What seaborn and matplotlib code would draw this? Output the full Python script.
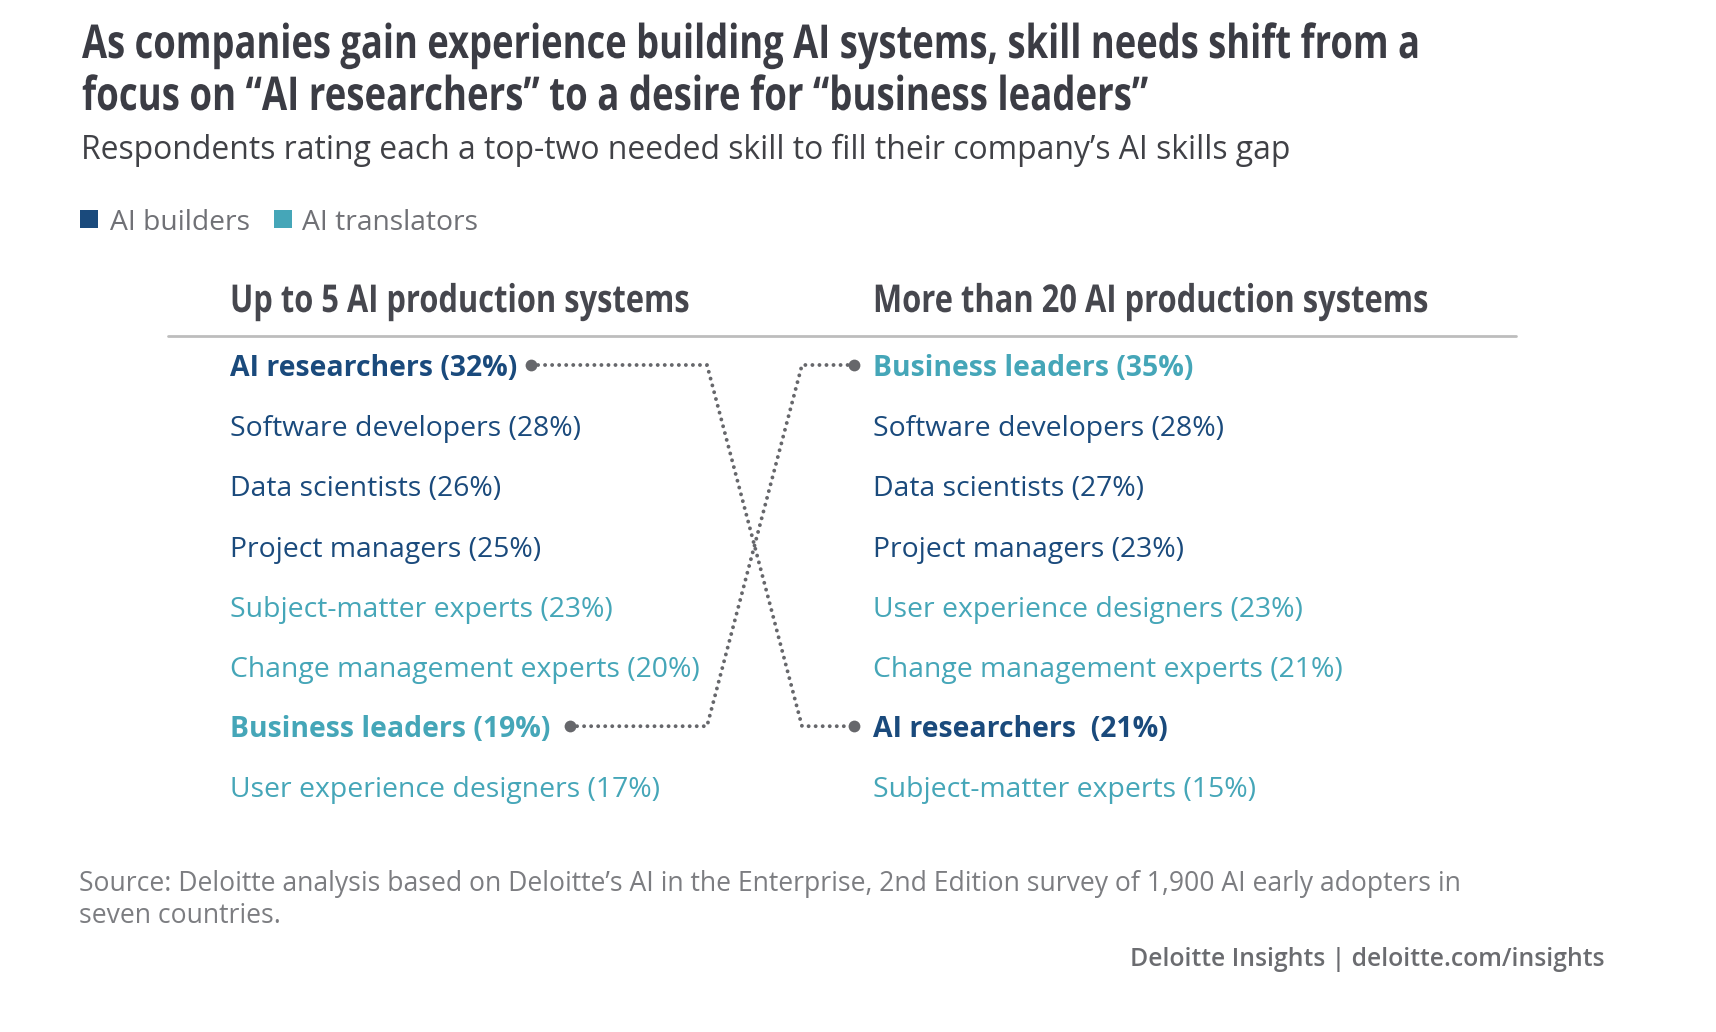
import matplotlib
matplotlib.use("Agg")
import matplotlib.pyplot as plt
import matplotlib.patheffects as pe
from matplotlib.transforms import Affine2D
import pandas as pd
import seaborn as sns

W, H = 1716, 1032
DARK, TEAL = "#1a4a7c", "#45a6b8"

title_lines = ["As companies gain experience building AI systems, skill needs shift from a",
               "focus on “AI researchers” to a desire for “business leaders”"]
subtitle = "Respondents rating each a top-two needed skill to fill their company’s AI skills gap"
legend_labels = ["AI builders", "AI translators"]
left_header = "Up to 5 AI production systems"
right_header = "More than 20 AI production systems"
left_names = ["AI researchers", "Software developers", "Data scientists", "Project managers",
              "Subject-matter experts", "Change management experts", "Business leaders",
              "User experience designers"]
left_values = [32, 28, 26, 25, 23, 20, 19, 17]
left_groups = ["b", "b", "b", "b", "t", "t", "t", "t"]
right_names = ["Business leaders", "Software developers", "Data scientists", "Project managers",
               "User experience designers", "Change management experts", "AI researchers ",
               "Subject-matter experts"]
right_values = [35, 28, 27, 23, 23, 21, 21, 15]
right_groups = ["t", "b", "b", "b", "t", "t", "b", "t"]
highlight = ["AI researchers", "Business leaders"]
source_lines = ["Source: Deloitte analysis based on Deloitte’s AI in the Enterprise, 2nd Edition survey of 1,900 AI early adopters in",
                "seven countries."]
credit = "Deloitte Insights | deloitte.com/insights"


class Condense(pe.AbstractPathEffect):
    """Draw a real text object narrower and taller, as the condensed face of the reference."""

    def __init__(self, sx, sy):
        super().__init__()
        self.sx, self.sy = sx, sy

    def draw_path(self, renderer, gc, tpath, affine, rgbFace=None):
        renderer.draw_path(gc, tpath, Affine2D().scale(self.sx, self.sy) + affine, rgbFace)


sns.set_theme(style="white")
plt.rcParams["font.family"] = ["Open Sans", "DejaVu Sans"]

fig = plt.figure(figsize=(W / 100, H / 100), dpi=100, facecolor="white")
RANK0, STEP = 365.0, 60.2
ax = fig.add_axes([0, 0, 1, 1])
ax.set_xlim(0, W)
ax.set_ylim((H - RANK0) / STEP, -RANK0 / STEP)
ax.axis("off")


def y_of(p):
    return (p - RANK0) / STEP


def put(x, p, s, **kw):
    return ax.text(x, y_of(p), s, va="baseline", **kw)


def condensed(x, p, s, size, color, width, sy=1.15):
    t = put(x, p, s, weight="bold", size=size, color=color)
    full = t.get_window_extent(fig.canvas.get_renderer()).width
    t.set_path_effects([Condense(width / full, sy)])
    return t


condensed(82, 58, title_lines[0], 28, "#3b3c44", 1336, sy=1.2)
condensed(82, 110, title_lines[1], 28, "#3b3c44", 1065, sy=1.2)
put(81, 159, subtitle, size=22.95, color="#404146")

for x, tx, c, s in zip((80, 274), (110, 302), (DARK, TEAL), legend_labels):
    ax.fill_between([x, x + 18], y_of(210), y_of(228), color=c, lw=0)
    put(tx, 230, s, size=20.3, color="#707176")

condensed(230, 312, left_header, 24, "#46474e", 460)
condensed(873, 312, right_header, 24, "#46474e", 556)
ax.plot([168, 1516], [y_of(336)] * 2, color="#bdbdbd", lw=2)

for x, names, vals, groups in ((230, left_names, left_values, left_groups),
                               (873, right_names, right_values, right_groups)):
    for i, (n, v, g) in enumerate(zip(names, vals, groups)):
        bold = n.strip() in highlight
        ax.text(x, i + 11 / STEP, f"{n} ({v}%)", va="baseline", size=20.4,
                color=DARK if g == "b" else TEAL, weight="bold" if bold else "normal")

a0, a6 = left_names.index("AI researchers"), right_names.index("AI researchers ")
b6, b0 = left_names.index("Business leaders"), right_names.index("Business leaders")
links = pd.DataFrame({
    "x": [531, 707, 802, 854, 570, 707, 802, 854],
    "rank": [a0, a0, a6, a6, b6, b6, b0, b0],
    "link": ["a"] * 4 + ["b"] * 4,
})
for _, d in links.groupby("link"):
    sns.lineplot(data=d, x="x", y="rank", sort=False, estimator=None, ax=ax, color="#66676b",
                 lw=2.8, linestyle=(0, (0.01, 1.8)), dash_capstyle="round", legend=False)
ends = links.groupby("link").nth([0, 3])
sns.scatterplot(data=ends, x="x", y="rank", ax=ax, s=72, color="#66676b", linewidth=0, legend=False, zorder=5)
ax.set_xlim(0, W)
ax.set_ylim((H - RANK0) / STEP, -RANK0 / STEP)
ax.axis("off")

for s, p in zip(source_lines, (891, 923)):
    put(79, p, s, size=19.08, color="#7c7d81")
ax.text(1604, y_of(966), credit, ha="right", va="baseline", size=17.85, weight="semibold", color="#6b6c70")

fig.savefig("out.png", dpi=100, facecolor="white")
